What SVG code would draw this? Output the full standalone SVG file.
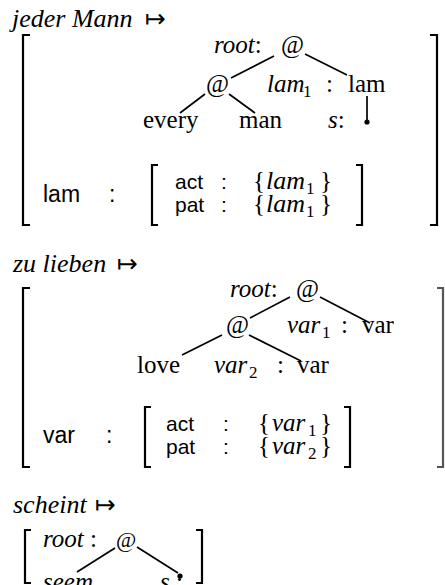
<svg xmlns="http://www.w3.org/2000/svg" width="445" height="585" viewBox="0 0 445 585">
<style>
text{fill:#000}
.s{font-family:"Liberation Serif","Times New Roman",serif;font-size:25px}
.i{font-style:italic}
.h{font-family:"Liberation Serif","Times New Roman",serif;font-style:italic;font-size:26px}
.sub{font-family:"Liberation Serif","Times New Roman",serif;font-size:17px}
.ss{font-family:"Liberation Sans",Arial,sans-serif;font-size:23px}
.sm{font-family:"Liberation Sans",Arial,sans-serif;font-size:21px}
.arr{font-family:"DejaVu Sans",sans-serif;font-size:25px}
.br{fill:none;stroke:#000;stroke-width:2.2}
.e{stroke:#000;stroke-width:1.7;fill:none}
.dot{fill:#000}
</style>

<!-- headings -->
<g id="heading1"><text class="h" x="12" y="27">jeder Mann</text><text class="arr" x="145" y="27">↦</text></g>
<g id="heading2"><text class="h" x="13" y="272">zu lieben</text><text class="arr" x="117" y="272">↦</text></g>
<g id="heading3"><text class="h" x="13" y="513">scheint</text><text class="arr" x="95" y="513">↦</text></g>

<!-- brackets -->
<g id="brackets">
<path class="br" d="M30,35 H23 V225 H30"/>
<path class="br" d="M430,35 H437 V225 H430"/>
<path class="br" d="M158,165 H152 V225 H158"/>
<path class="br" d="M356,165 H362 V225 H356"/>
<path class="br" d="M30,288 H23 V467 H30"/>
<path class="br" d="M437,288 H443 V467 H437" style="stroke:#555"/>
<path class="br" d="M151,407 H145 V467 H151"/>
<path class="br" d="M344,407 H350 V467 H344"/>
<path class="br" d="M31,530 H25 V583 H31"/>
<path class="br" d="M196,530 H202 V583 H196"/>
</g>

<!-- connectors -->
<g id="connectors">
<line class="e" x1="274" y1="56" x2="231" y2="78"/>
<line class="e" x1="305" y1="54" x2="347" y2="75"/>
<line class="e" x1="205" y1="94" x2="180" y2="113"/>
<line class="e" x1="229" y1="94" x2="255" y2="113"/>
<line class="e" x1="367" y1="96" x2="367" y2="122"/>
<line class="e" x1="290" y1="297" x2="250" y2="318"/>
<line class="e" x1="320" y1="297" x2="370" y2="323"/>
<line class="e" x1="222" y1="335" x2="182" y2="355"/>
<line class="e" x1="249" y1="335" x2="301" y2="361"/>
<line class="e" x1="115" y1="548" x2="77" y2="572"/>
<line class="e" x1="137" y1="547" x2="178" y2="573"/>
</g>

<!-- section 1 nodes -->
<g id="n1-root"><text class="s" x="214" y="53"><tspan class="i">root</tspan>:</text><text class="s" x="281" y="53">@</text></g>
<g id="n1-app"><text class="s" x="206" y="92">@</text></g>
<g id="n1-lam"><text class="s i" x="267" y="92">lam</text><text class="sub" x="303" y="97">1</text><text class="s" x="326" y="92">:</text><text class="s" x="348" y="92">lam</text></g>
<g id="n1-every"><text class="s" x="143" y="128">every</text></g>
<g id="n1-man"><text class="s" x="239" y="128">man</text></g>
<g id="n1-s"><text class="s" x="328" y="128"><tspan class="i">s</tspan>:</text><circle class="dot" cx="367" cy="122" r="2.6"/></g>
<g id="n1-matrix">
<text class="ss" x="43" y="202">lam</text><text class="ss" x="109" y="202">:</text>
<text class="sm" x="175" y="189">act</text><text class="sm" x="221" y="189">:</text>
<text class="s" x="253" y="189">{</text><text class="s i" x="266" y="189" style="font-size:26px">lam</text><text class="sub" x="306" y="194">1</text><text class="s" x="320" y="189">}</text>
<text class="sm" x="175" y="212">pat</text><text class="sm" x="221" y="212">:</text>
<text class="s" x="253" y="212">{</text><text class="s i" x="266" y="212" style="font-size:26px">lam</text><text class="sub" x="306" y="217">1</text><text class="s" x="320" y="212">}</text>
</g>

<!-- section 2 nodes -->
<g id="n2-root"><text class="s" x="230" y="297"><tspan class="i">root</tspan>:</text><text class="s" x="296" y="297">@</text></g>
<g id="n2-app"><text class="s" x="226" y="333">@</text></g>
<g id="n2-var1"><text class="s i" x="287" y="333">var</text><text class="sub" x="322" y="338">1</text><text class="s" x="341" y="333">:</text><text class="s" x="362" y="333">var</text></g>
<g id="n2-love"><text class="s" x="137" y="373">love</text></g>
<g id="n2-var2"><text class="s i" x="214" y="373">var</text><text class="sub" x="249" y="378">2</text><text class="s" x="277" y="373">:</text><text class="s" x="297" y="373">var</text></g>
<g id="n2-matrix">
<text class="ss" x="43" y="443">var</text><text class="ss" x="106" y="443">:</text>
<text class="sm" x="166" y="431">act</text><text class="sm" x="223" y="431">:</text>
<text class="s" x="258" y="431">{</text><text class="s i" x="272" y="431">var</text><text class="sub" x="308" y="436">1</text><text class="s" x="320" y="431">}</text>
<text class="sm" x="166" y="454">pat</text><text class="sm" x="223" y="454">:</text>
<text class="s" x="258" y="454">{</text><text class="s i" x="272" y="454">var</text><text class="sub" x="308" y="459">2</text><text class="s" x="320" y="454">}</text>
</g>

<!-- section 3 nodes -->
<g id="n3-root"><text class="s" x="43" y="547"><tspan class="i">root</tspan> :</text><text class="s" x="116" y="547" style="font-size:22px">@</text></g>
<g id="n3-seem"><text class="s i" x="43" y="590">seem</text></g>
<g id="n3-s"><text class="s" x="160" y="590"><tspan class="i">s</tspan> :</text><circle class="dot" cx="180" cy="576" r="2.6"/></g>
</svg>
